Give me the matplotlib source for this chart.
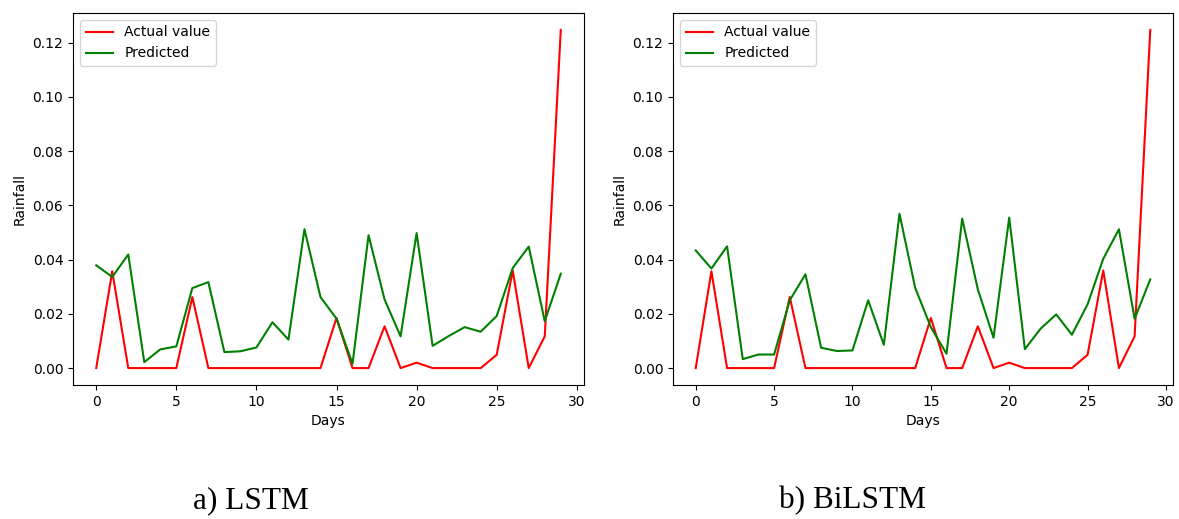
import matplotlib
matplotlib.use("Agg")
import matplotlib.pyplot as plt
import numpy as np

days = np.arange(30)

actual = [0.0, 0.0357, 0.0, 0.0, 0.0, 0.0, 0.0262, 0.0, 0.0, 0.0,
          0.0, 0.0, 0.0, 0.0, 0.0, 0.0185, 0.0, 0.0, 0.0154, 0.0,
          0.0020, 0.0, 0.0, 0.0, 0.0, 0.0049, 0.0360, 0.0, 0.0117, 0.1247]

lstm_pred = [0.0379, 0.0336, 0.0419, 0.0022, 0.0069, 0.0080, 0.0295, 0.0317, 0.0059, 0.0062,
             0.0076, 0.0169, 0.0105, 0.0512, 0.0262, 0.0182, 0.0016, 0.0490, 0.0253, 0.0117,
             0.0498, 0.0082, 0.0118, 0.0151, 0.0134, 0.0192, 0.0369, 0.0448, 0.0173, 0.0348]

bilstm_pred = [0.0434, 0.0367, 0.0449, 0.0033, 0.0050, 0.0050, 0.0250, 0.0346, 0.0075, 0.0063,
               0.0065, 0.0250, 0.0086, 0.0569, 0.0296, 0.0151, 0.0053, 0.0551, 0.0290, 0.0112,
               0.0555, 0.0070, 0.0145, 0.0198, 0.0123, 0.0235, 0.0403, 0.0512, 0.0182, 0.0327]

captions = ["a) LSTM", "b) BiLSTM"]

W, H = 1179, 519
fig = plt.figure(figsize=(W / 100, H / 100), dpi=100)

boxes = [(73, 13, 584, 385), (673, 13, 1173, 385)]
preds = [lstm_pred, bilstm_pred]
cap_x = [251, 852]

for (x0, y0, x1, y1), pred, cap, cx in zip(boxes, preds, captions, cap_x):
    ax = fig.add_axes([x0 / W, 1 - y1 / H, (x1 - x0) / W, (y1 - y0) / H])
    ax.plot(days, actual, color="red", label="Actual value")
    ax.plot(days, pred, color="green", label="Predicted")
    ax.set_xlabel("Days")
    ax.set_ylabel("Rainfall")
    ax.set_xticks([0, 5, 10, 15, 20, 25, 30])
    ax.set_yticks([0.0, 0.02, 0.04, 0.06, 0.08, 0.10, 0.12])
    ax.legend(loc="upper left")
    fig.text(cx / W, 1 - 501 / H, cap, ha="center", va="center",
             family="Liberation Serif", fontsize=22.5)

fig.savefig("out.png", dpi=100)
